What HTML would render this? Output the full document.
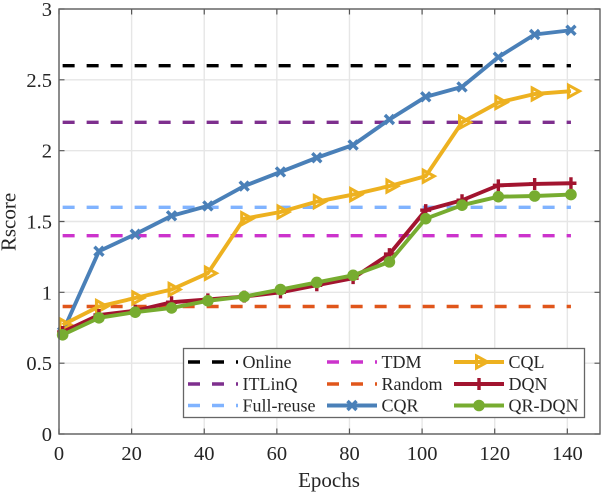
<!DOCTYPE html>
<html>
<head>
<meta charset="utf-8">
<title>Rscore vs Epochs</title>
<style>
html,body{margin:0;padding:0;background:#fff;width:602px;height:494px;overflow:hidden}
svg{display:block}
text{font-family:"Liberation Serif",serif;fill:#262626}
</style>
</head>
<body>
<svg id="chart" width="602" height="494" viewBox="0 0 602 494" xmlns="http://www.w3.org/2000/svg">
  <rect x="0" y="0" width="602" height="494" fill="#fff"/>
  <g id="grid"></g>
  <g id="series"></g>
  <g id="axes"></g>
  <text x="329" y="487" font-size="21" text-anchor="middle">Epochs</text>
  <text x="0" y="0" font-size="21" text-anchor="middle" transform="translate(15.5 222) rotate(-90)">Rscore</text>
  <g id="legend"></g>
</svg>
<script>
const epochs = [1, 11, 21, 31, 41, 51, 61, 71, 81, 91, 101, 111, 121, 131, 141];
const xTicks = [0, 20, 40, 60, 80, 100, 120, 140];
const yTicks = [0, 0.5, 1, 1.5, 2, 2.5, 3];
const refEpochs = [1, 141];
const online = [2.6, 2.6];
const itlinq = [2.2, 2.2];
const fullReuse = [1.6, 1.6];
const tdm = [1.4, 1.4];
const randomPolicy = [0.9, 0.9];
const cqr = [0.72, 1.29, 1.41, 1.54, 1.61, 1.75, 1.85, 1.95, 2.04, 2.22, 2.38, 2.45, 2.66, 2.82, 2.85];
const cql = [0.77, 0.90, 0.96, 1.02, 1.135, 1.52, 1.567, 1.64, 1.69, 1.75, 1.82, 2.20, 2.34, 2.40, 2.42];
const dqn = [0.72, 0.84, 0.87, 0.93, 0.95, 0.97, 1.00, 1.05, 1.10, 1.27, 1.58, 1.65, 1.755, 1.765, 1.77];
const qrdqn = [0.70, 0.82, 0.86, 0.89, 0.94, 0.97, 1.02, 1.07, 1.12, 1.215, 1.52, 1.615, 1.675, 1.68, 1.69];

const NS = 'http://www.w3.org/2000/svg';
const L = 59, R = 600, T = 9, B = 434;
const xMax = 149, yMax = 3;
function xPos(v) { return L + v / xMax * (R - L); }
function yPos(v) { return B - v / yMax * (B - T); }
function mk(parent, tag, attrs) {
  const el = document.createElementNS(NS, tag);
  for (const k in attrs) el.setAttribute(k, attrs[k]);
  parent.appendChild(el);
  return el;
}
function markerShape(g, kind, cx, cy, color) {
  if (kind === 'tri') {
    mk(g, 'polygon', { points: (cx - 2.5) + ',' + (cy - 6) + ' ' + (cx + 8.5) + ',' + cy + ' ' + (cx - 2.5) + ',' + (cy + 6), fill: 'none', stroke: color, 'stroke-width': 3, 'stroke-miterlimit': 6 });
  } else if (kind === 'x') {
    mk(g, 'path', { d: 'M' + (cx - 4.5) + ' ' + (cy - 4.5) + 'L' + (cx + 4.5) + ' ' + (cy + 4.5) + 'M' + (cx - 4.5) + ' ' + (cy + 4.5) + 'L' + (cx + 4.5) + ' ' + (cy - 4.5), fill: 'none', stroke: color, 'stroke-width': 3.4 });
  } else if (kind === 'plus') {
    mk(g, 'path', { d: 'M' + (cx - 5.5) + ' ' + cy + 'L' + (cx + 5.5) + ' ' + cy + 'M' + cx + ' ' + (cy - 6) + 'L' + cx + ' ' + (cy + 6), fill: 'none', stroke: color, 'stroke-width': 3.4 });
  } else if (kind === 'dot') {
    mk(g, 'circle', { cx: cx, cy: cy, r: 5.8, fill: color });
  }
}

const gridG = document.getElementById('grid');
const axesG = document.getElementById('axes');
xTicks.forEach(function (t) {
  const x = xPos(t);
  const g = mk(gridG, 'line', { x1: x, x2: x, y1: T, y2: B, stroke: '#e6e6e6', 'stroke-width': 1.4 });
  
  
  const tk = mk(axesG, 'path', { d: 'M' + x + ' ' + B + 'V' + (B - 5.5) + 'M' + x + ' ' + T + 'V' + (T + 5.5), stroke: '#555', 'stroke-width': 1.2, fill: 'none' });
  
  
  const lb = mk(axesG, 'text', { x: x, y: 460, 'font-size': 20.5, 'text-anchor': 'middle' });
  lb.textContent = String(t);
  
  
});
yTicks.forEach(function (t) {
  const y = yPos(t);
  const g = mk(gridG, 'line', { x1: L, x2: R, y1: y, y2: y, stroke: '#e6e6e6', 'stroke-width': 1.4 });
  
  
  const tk = mk(axesG, 'path', { d: 'M' + L + ' ' + y + 'H' + (L + 5.5) + 'M' + R + ' ' + y + 'H' + (R - 5.5), stroke: '#555', 'stroke-width': 1.2, fill: 'none' });
  
  
  const lb = mk(axesG, 'text', { x: 52, y: y + 7, 'font-size': 20.5, 'text-anchor': 'end' });
  lb.textContent = String(t);
  
  
});
const frame = mk(axesG, 'rect', { x: L, y: T, width: R - L, height: B - T, fill: 'none', stroke: '#606060', 'stroke-width': 1.4 });



const seriesG = document.getElementById('series');
function drawRef(values, color) {
  const pts = refEpochs.map(function (e, i) { return xPos(e) + ',' + yPos(values[i]); }).join(' ');
  const l = mk(seriesG, 'polyline', { points: pts, fill: 'none', stroke: color, 'stroke-width': 3.4, 'stroke-dasharray': '12 12' });
  return l;
}
function drawLine(values, color, kind) {
  const g = mk(seriesG, 'g', {});
  const pts = epochs.map(function (e, i) { return xPos(e) + ',' + yPos(values[i]); }).join(' ');
  mk(g, 'polyline', { points: pts, fill: 'none', stroke: color, 'stroke-width': 3.9, 'stroke-linejoin': 'round' });
  epochs.forEach(function (e, i) { markerShape(g, kind, xPos(e), yPos(values[i]), color); });
  return g;
}
const c = { online: '#000000', itlinq: '#7E2F8E', full: '#80B3FF', tdm: '#CC33CC', random: '#E0561B', cqr: '#4A80B8', cql: '#EDB120', dqn: '#A2142F', qr: '#77AC30' };

const s1 = drawRef(online, c.online);


const s2 = drawRef(itlinq, c.itlinq);


const s3 = drawRef(fullReuse, c.full);


const s4 = drawRef(tdm, c.tdm);


const s5 = drawRef(randomPolicy, c.random);


const s6 = drawLine(cqr, c.cqr, 'x');


const s7 = drawLine(cql, c.cql, 'tri');


const s8 = drawLine(dqn, c.dqn, 'plus');


const s9 = drawLine(qrdqn, c.qr, 'dot');



const legendG = document.getElementById('legend');
const box = mk(legendG, 'rect', { x: 183.5, y: 348.5, width: 401, height: 69, fill: '#fff', stroke: '#666', 'stroke-width': 1.3 });


const legendLabels = ['Online', 'ITLinQ', 'Full-reuse', 'TDM', 'Random', 'CQR', 'CQL', 'DQN', 'QR-DQN'];
const legendColors = [c.online, c.itlinq, c.full, c.tdm, c.random, c.cqr, c.cql, c.dqn, c.qr];
const legendKinds = ['', '', '', '', '', 'x', 'tri', 'plus', 'dot'];
const colX = [188, 327, 454];
const rowY = [362, 384, 405.5];
legendLabels.forEach(function (name, i) {
  const col = Math.floor(i / 3), row = i % 3;
  const x0 = colX[col], y0 = rowY[row], color = legendColors[i], kind = legendKinds[i];
  const e = mk(legendG, 'g', {});
  
  
  if (kind) {
    mk(e, 'line', { x1: x0, x2: x0 + 50, y1: y0, y2: y0, stroke: color, 'stroke-width': 3.9 });
    markerShape(e, kind, x0 + 25, y0, color);
  } else {
    mk(e, 'line', { x1: x0, x2: x0 + 50, y1: y0, y2: y0, stroke: color, 'stroke-width': 3.4, 'stroke-dasharray': '12 12' });
  }
  const t = mk(e, 'text', { x: x0 + 54.5, y: y0 + 6, 'font-size': 18 });
  t.textContent = name;
});
</script>
</body>
</html>
